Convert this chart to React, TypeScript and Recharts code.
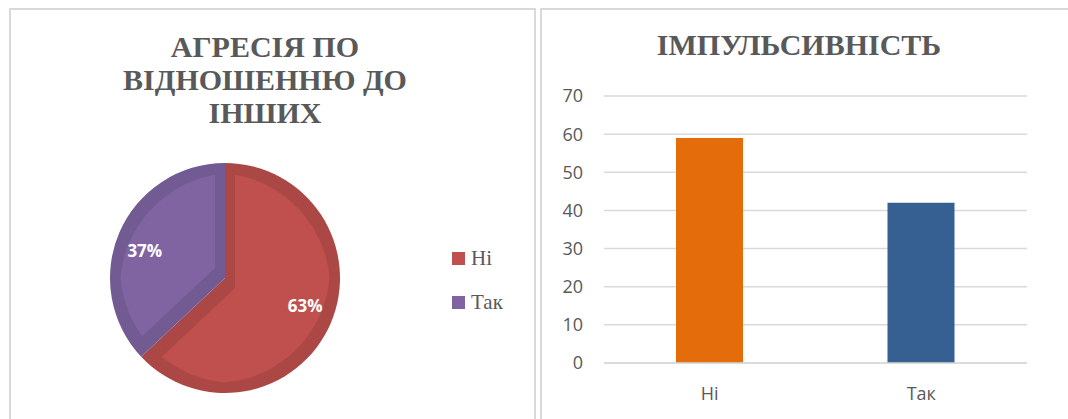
import { PieChart, Pie, Cell, Legend, BarChart, Bar, XAxis, YAxis, CartesianGrid } from "recharts";

const pieNames = ["Ні", "Так"];
const pieValues = [63, 37];
const pieFill = ["#c0504d", "#8064a2"];
const pieEdge = ["#ab4845", "#725a92"];

const barNames = ["Ні", "Так"];
const barValues = [59, 42];
const barFill = ["#e46c0a", "#376092"];
const yTicks = [0, 10, 20, 30, 40, 50, 60, 70];

const pieData = pieNames.map((name, i) => ({ name, value: pieValues[i] }));
const barData = barNames.map((name, i) => ({ name, value: barValues[i] }));

const GREY = "#595959";
const BORDER = "#d9d9d9";
const SERIF = "Liberation Serif";
const SANS = "Open Sans";

const RAD = Math.PI / 180;

function PieLabel(props: any) {
  const { cx, cy, midAngle, outerRadius, percent } = props;
  const r = outerRadius * 0.76;
  const x = cx + r * Math.cos(-midAngle * RAD);
  const y = cy + 0.8 * r * Math.sin(-midAngle * RAD);
  return (
    <text x={x} y={y} fill="#fff" textAnchor="middle" dominantBaseline="central"
      style={{ fontFamily: SANS, fontWeight: 700, fontSize: 17 }}>
      {`${Math.round(percent * 100)}%`}
    </text>
  );
}

function PieLegend(props: any) {
  // both pie layers report entries; keep the face colours only
  const items = (props.payload || []).filter((e: any) => pieFill.includes(e.color));
  return (
    <div>
      {items.map((e: any) => (
        <div key={e.value} style={{ display: "flex", alignItems: "center", height: 44 }}>
          <span style={{ width: 13, height: 13, background: e.color, marginRight: 6 }} />
          <span style={{ fontFamily: SERIF, fontSize: 21, color: GREY }}>{e.value}</span>
        </div>
      ))}
    </div>
  );
}

export default function App() {
  return (
    <div style={{ position: "absolute", left: 0, top: 0, width: 1068, height: 419, overflow: "hidden", background: "#fff" }}>
      <svg width={0} height={0} style={{ position: "absolute" }}>
        <defs>
          <filter id="inset" colorInterpolationFilters="sRGB">
            <feMorphology operator="erode" radius={10} />
          </filter>
        </defs>
      </svg>

      {/* panel frames */}
      <div style={{ position: "absolute", left: 9, top: 8, width: 523, height: 440, border: `2px solid ${BORDER}` }} />
      <div style={{ position: "absolute", left: 540, top: 8, width: 560, height: 440, border: `2px solid ${BORDER}` }} />

      {/* left: pie */}
      <div style={{ position: "absolute", left: 0, top: 0 }}>
        <PieChart width={536} height={419} margin={{ top: 0, right: 0, bottom: 0, left: 0 }}>
          <Pie data={pieData} dataKey="value" nameKey="name" cx={225} cy={278} outerRadius={115}
            startAngle={90} endAngle={-270} stroke="none" legendType="none" isAnimationActive={false}>
            {pieData.map((d, i) => <Cell key={d.name} fill={pieEdge[i]} />)}
          </Pie>
          <Pie data={pieData} dataKey="value" nameKey="name" cx={225} cy={278} outerRadius={115}
            startAngle={90} endAngle={-270} stroke="none" label={PieLabel} labelLine={false}
            isAnimationActive={false}>
            {pieData.map((d, i) => <Cell key={d.name} fill={pieFill[i]} filter="url(#inset)" />)}
          </Pie>
          <Legend content={PieLegend} wrapperStyle={{ left: 452, top: 236, width: 80 }} />
        </PieChart>
      </div>

      {/* right: bars */}
      <div style={{ position: "absolute", left: 540, top: 0 }}>
        <BarChart width={528} height={419} data={barData} margin={{ top: 96, right: 41, left: 0, bottom: 0 }}
          barCategoryGap="34%">
          <CartesianGrid vertical={false} stroke={BORDER} strokeWidth={1.5} />
          <XAxis dataKey="name" height={56} axisLine={{ stroke: BORDER, strokeWidth: 1.5 }} tickLine={false}
            tickSize={0} tickMargin={24} tick={{ fill: GREY, fontSize: 18, fontFamily: SANS }} />
          <YAxis width={64} domain={[0, 70]} ticks={yTicks} axisLine={false} tickLine={false}
            tickSize={0} tickMargin={21} tick={{ fill: GREY, fontSize: 18, fontFamily: SANS }} />
          <Bar dataKey="value" barSize={67} isAnimationActive={false}>
            {barData.map((d, i) => <Cell key={d.name} fill={barFill[i]} />)}
          </Bar>
        </BarChart>
      </div>

      {/* titles */}
      <svg width={1068} height={140} style={{ position: "absolute", left: 0, top: 0, pointerEvents: "none" }}>
        <g fill={GREY} style={{ fontFamily: SERIF, fontWeight: 700, fontSize: 30 }} textAnchor="middle">
          <text x={265} y={57}>АГРЕСІЯ ПО</text>
          <text x={265} y={90}>ВІДНОШЕННЮ ДО</text>
          <text x={265} y={123}>ІНШИХ</text>
          <text x={799} y={55}>ІМПУЛЬСИВНІСТЬ</text>
        </g>
      </svg>
    </div>
  );
}
